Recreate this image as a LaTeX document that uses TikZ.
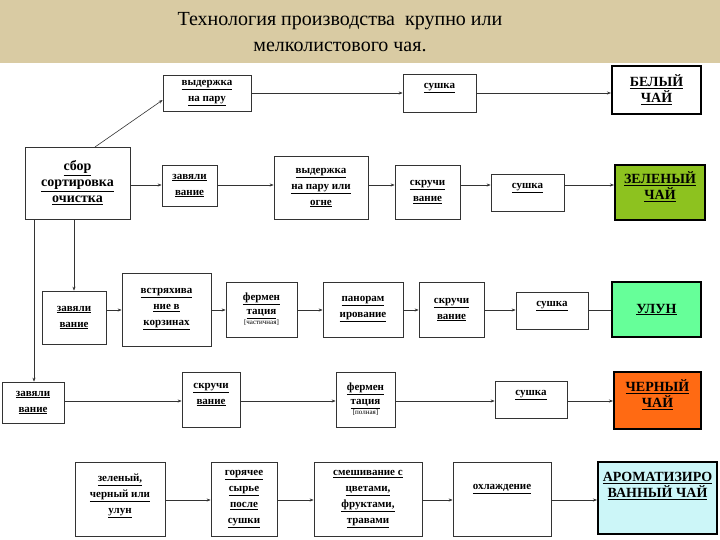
\documentclass[tikz,border=0pt]{standalone}
\usepackage{fontspec}
\setmainfont{Liberation Serif}
\usetikzlibrary{arrows.meta}
\definecolor{banner}{HTML}{D9CBA3}
\definecolor{green1}{HTML}{8DC21F}
\definecolor{green2}{HTML}{66FF99}
\definecolor{orange1}{HTML}{FF6A13}
\definecolor{cyan1}{HTML}{CCF6F8}
\newcommand{\ul}[1]{\underline{#1}}
\newcommand{\bigf}{\fontsize{14}{17}\selectfont}
\begin{document}
\begin{tikzpicture}[x=1pt,y=-1pt,
  box/.style={draw=black!80,line width=0.7pt,fill=white,align=center,inner sep=0pt,
    font=\bfseries\fontsize{11}{16}\selectfont},
  res/.style={box,line width=2pt,draw=black},
  ar/.style={draw=black!80,line width=0.6pt,-{Stealth[length=4pt,width=3pt]}},
  ln/.style={draw=black!80,line width=0.6pt}]
\useasboundingbox (0,0) rectangle (720,540);
\fill[white] (0,0) rectangle (720,540);
\fill[banner] (0,0) rectangle (720,63);
\node[font=\fontsize{20}{26}\selectfont,align=center] (title) at (340,32) {Технология производства \ крупно или\\мелколистового чая.};
\newcommand{\bx}[6][box]{\node[#1,minimum width=#4-#2,minimum height=#5-#3] (#6) at ({(#2+#4)/2},{(#3+#5)/2})}
\newcommand{\harr}[4][ar]{\draw[#1] (#2.east |- 0,#4) -- (#3.west |- 0,#4);}
% row 1
\bx{163}{75}{251}{111}{a1} {\fontsize{11}{13}\selectfont\ul{выдержка}\\\fontsize{11}{13}\selectfont\ul{на пару}};
\bx{403}{74}{476}{112}{a2} {\ul{сушка}\\[-2pt]};
\bx[res]{612}{66}{701}{114}{a3} {\bigf\ul{БЕЛЫЙ}\\\bigf\ul{ЧАЙ}};
% row 2
\bx{25}{147}{130}{219}{s} {\fontsize{14}{19}\selectfont\ul{сбор}\\\fontsize{14}{19}\selectfont\ul{сортировка}\\\fontsize{14}{19}\selectfont\ul{очистка}};
\bx{162}{165}{217}{206}{b1} {\ul{завяли}\\\ul{вание}};
\bx{274}{156}{368}{219}{b2} {\ul{выдержка}\\\ul{на пару или}\\\ul{огне}};
\bx{395}{165}{460}{219}{b3} {\ul{скручи}\\\ul{вание}};
\bx{491}{174}{564}{211}{b4} {\ul{сушка}\\[-2pt]};
\bx[res,fill=green1]{615}{165}{705}{220}{b5} {\bigf\ul{ЗЕЛЕНЫЙ}\\\bigf\ul{ЧАЙ}\\[-2pt]};
% row 3
\bx{42}{291}{106}{344}{c1} {\ul{завяли}\\\ul{вание}};
\bx{122}{273}{211}{346}{c2} {\ul{встряхива}\\\ul{ние в}\\\ul{корзинах}};
\bx{226}{282}{297}{337}{c3} {\ul{фермен}\\[-2pt]\ul{тация}\\[-6pt]{\fontsize{7}{8}\selectfont\mdseries[частичная]}};
\bx{323}{282}{403}{337}{c4} {\ul{панорам}\\\ul{ирование}};
\bx{419}{282}{484}{337}{c5} {\ul{скручи}\\\ul{вание}};
\bx{516}{292}{588}{329}{c6} {\ul{сушка}\\[-2pt]};
\bx[res,fill=green2]{612}{282}{701}{337}{c7} {\bigf\ul{УЛУН}};
% row 4
\bx{2}{382}{64}{423}{d1} {\ul{завяли}\\\ul{вание}};
\bx{182}{372}{240}{427}{d2} {\ul{скручи}\\\ul{вание}\\[-4pt]};
\bx{336}{372}{395}{427}{d3} {\ul{фермен}\\[-2pt]\ul{тация}\\[-6pt]{\fontsize{7}{8}\selectfont\mdseries[полная]}};
\bx{495}{381}{567}{418}{d4} {\ul{сушка}\\[-2pt]};
\bx[res,fill=orange1]{614}{372}{701}{429}{d5} {\bigf\ul{ЧЕРНЫЙ}\\\bigf\ul{ЧАЙ}\\[-2pt]};
% row 5
\bx{75}{462}{165}{536}{e1} {\ul{зеленый,}\\\ul{черный или}\\\ul{улун}\\[-6pt]};
\bx{211}{462}{277}{536}{e2} {\ul{горячее}\\\ul{сырье}\\\ul{после}\\\ul{сушки}};
\bx{314}{462}{422}{536}{e3} {\ul{смешивание с}\\\ul{цветами,}\\\ul{фруктами,}\\\ul{травами}};
\bx{453}{462}{551}{536}{e4} {\ul{охлаждение}\\[8pt]};
\bx[res,fill=cyan1]{598}{462}{717}{534}{e5} {\bigf\ul{АРОМАТИЗИРО}\\\bigf\ul{ВАННЫЙ ЧАЙ}\\[10pt]};
% connectors
\draw[ar] (95,147) -- (a1.south west |- 0,100);
\harr{a1}{a2}{93}
\harr{a2}{a3}{93}
\harr{s}{b1}{185}
\harr{b1}{b2}{185}
\harr{b2}{b3}{185}
\harr{b3}{b4}{185}
\harr{b4}{b5}{185}
\draw[ar] (s.south -| c1.north) -- (c1.north);
\harr{c1}{c2}{310}
\harr{c2}{c3}{310}
\harr{c3}{c4}{310}
\harr{c4}{c5}{310}
\harr{c5}{c6}{310}
\harr[ln]{c6}{c7}{310}
\draw[ar] (s.south -| 34,0) -- (d1.north -| 34,0);
\harr{d1}{d2}{401}
\harr{d2}{d3}{401}
\harr{d3}{d4}{401}
\harr{d4}{d5}{401}
\harr{e1}{e2}{500}
\harr{e2}{e3}{500}
\harr{e3}{e4}{500}
\harr{e4}{e5}{500}
\end{tikzpicture}
\end{document}
